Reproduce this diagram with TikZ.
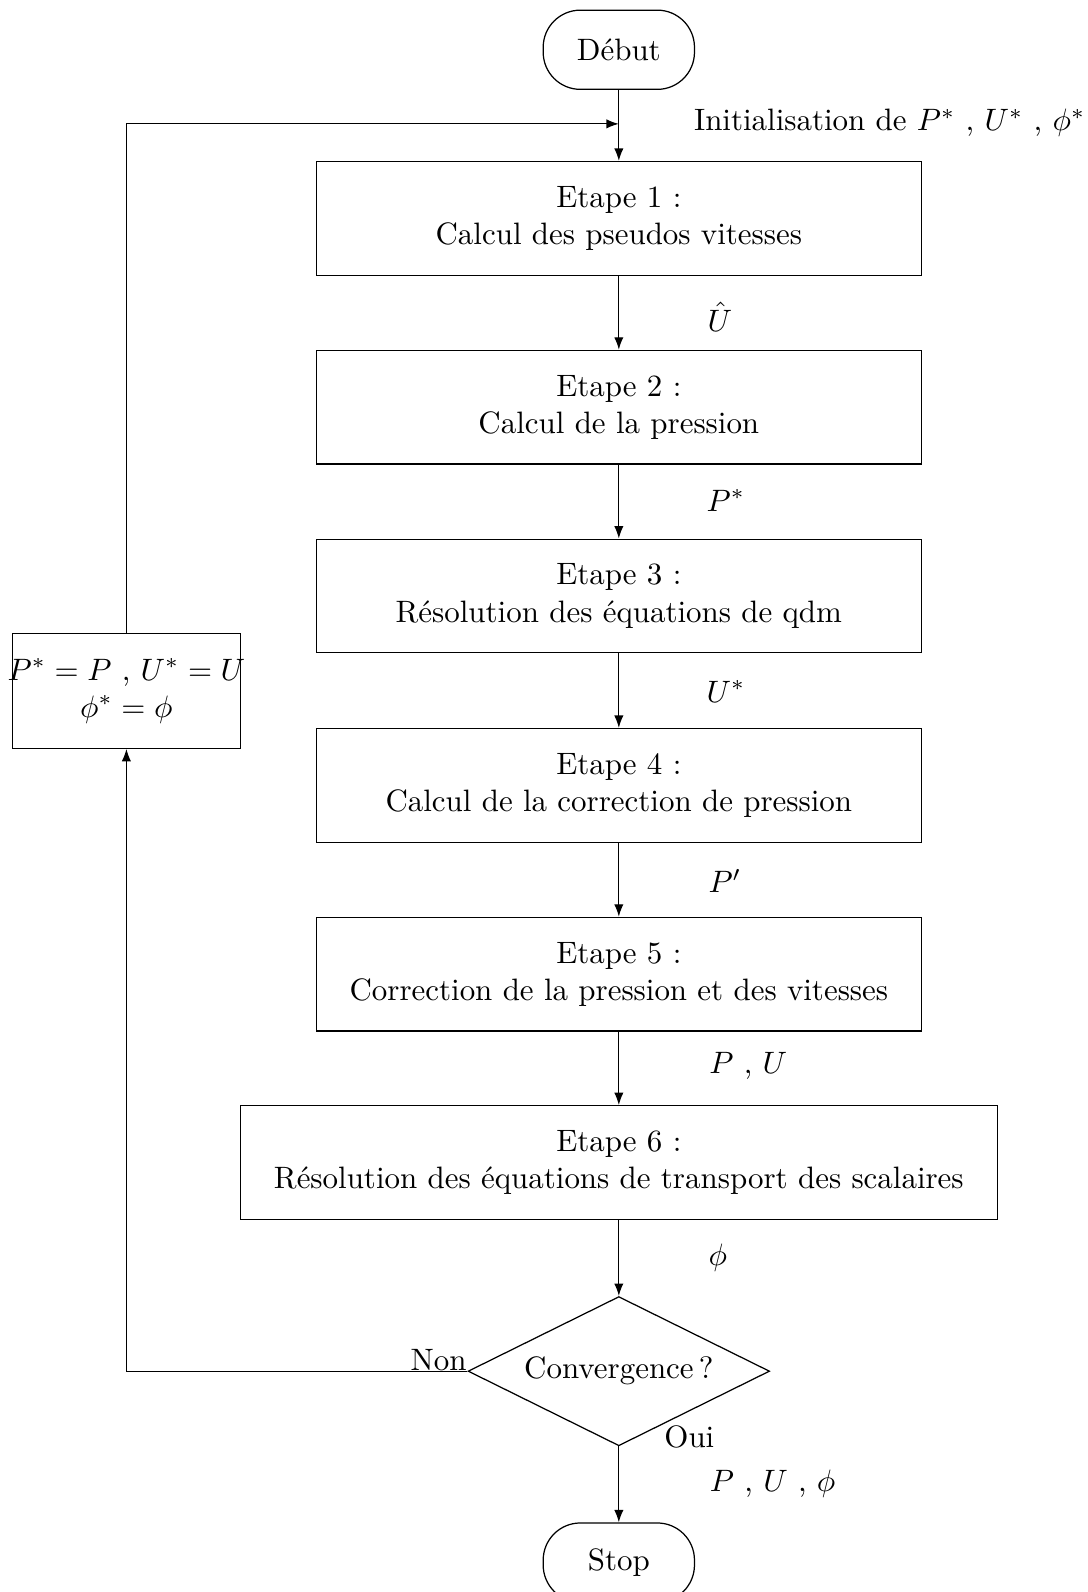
\documentclass[tikz,border=0pt]{standalone}
\usetikzlibrary{shapes.geometric,arrows.meta}
\newlength\pxu
\setlength\pxu{0.328pt}
\begin{document}
\begin{tikzpicture}[x=\pxu,y=-\pxu,
  stepbox/.style={draw, minimum width=596\pxu, minimum height=112\pxu, align=center, inner sep=0pt},
  widebox/.style={stepbox, minimum width=746\pxu},
  term/.style={draw, rounded corners=12pt, minimum width=149\pxu, minimum height=78\pxu, inner sep=0pt},
  decision/.style={diamond, draw, aspect=2, minimum width=297\pxu, minimum height=147\pxu, inner sep=0pt},
  arr/.style={-{Latex[length=4pt,width=3pt]}},
  lbl/.style={inner sep=0pt}]
\useasboundingbox (0,0) rectangle (1071,1568);
\node[term] (debut) at (609.5,49) {Début};
\node[stepbox] (s1) at (609.5,215) {Etape 1 :\\ Calcul des pseudos vitesses};
\node[stepbox] (s2) at (609.5,401) {Etape 2 :\\ Calcul de la pression};
\node[stepbox] (s3) at (609.5,587) {Etape 3 :\\ Résolution des équations de qdm};
\node[stepbox] (s4) at (609.5,773.5) {Etape 4 :\\ Calcul de la correction de pression};
\node[stepbox] (s5) at (609.5,959.5) {Etape 5 :\\ Correction de la pression et des vitesses};
\node[widebox] (s6) at (609.5,1145) {Etape 6 :\\ Résolution des équations de transport des scalaires};
\node[decision] (conv) at (609.5,1350.5) {Convergence\,?};
\node[term] (stop) at (609.5,1539) {Stop};
\node[draw, minimum width=225\pxu, minimum height=113\pxu, inner sep=0pt, align=center] (upd) at (124.5,680.5) {\makebox[215\pxu]{$P^*=P$ , $U^*=U$}\\ $\phi^*=\phi$};
\coordinate (j) at (609.5,122);
\coordinate (corner) at (124.5,122);
\node[lbl, anchor=west] (init) at (683,121) {Initialisation de $P^*$ , $U^*$ , $\phi^*$};
\node[lbl] (l1) at (709,312) {$\hat{U}$};
\node[lbl] (l2) at (715,493) {$P^*$};
\node[lbl] (l3) at (715,681) {$U^*$};
\node[lbl] (l4) at (714,868) {$P'$};
\node[lbl] (l5) at (737,1050) {$P$ , $U$};
\node[lbl] (l6) at (707,1239) {$\phi$};
\node[lbl] (l7) at (761,1461) {$P$ , $U$ , $\phi$};
\node[lbl] (non) at (432,1340) {Non};
\node[lbl] (oui) at (679,1415) {Oui};
\draw[arr] (debut.south) -- (s1.north);
\draw[arr] (upd.north) -- (corner) -- (j);
\draw[arr] (s1) -- (s2);
\draw[arr] (s2) -- (s3);
\draw[arr] (s3) -- (s4);
\draw[arr] (s4) -- (s5);
\draw[arr] (s5) -- (s6);
\draw[arr] (s6) -- (conv);
\draw[arr] (conv) -- (stop);
\draw[arr] (conv.west) -| (upd.south);
\end{tikzpicture}
\end{document}
